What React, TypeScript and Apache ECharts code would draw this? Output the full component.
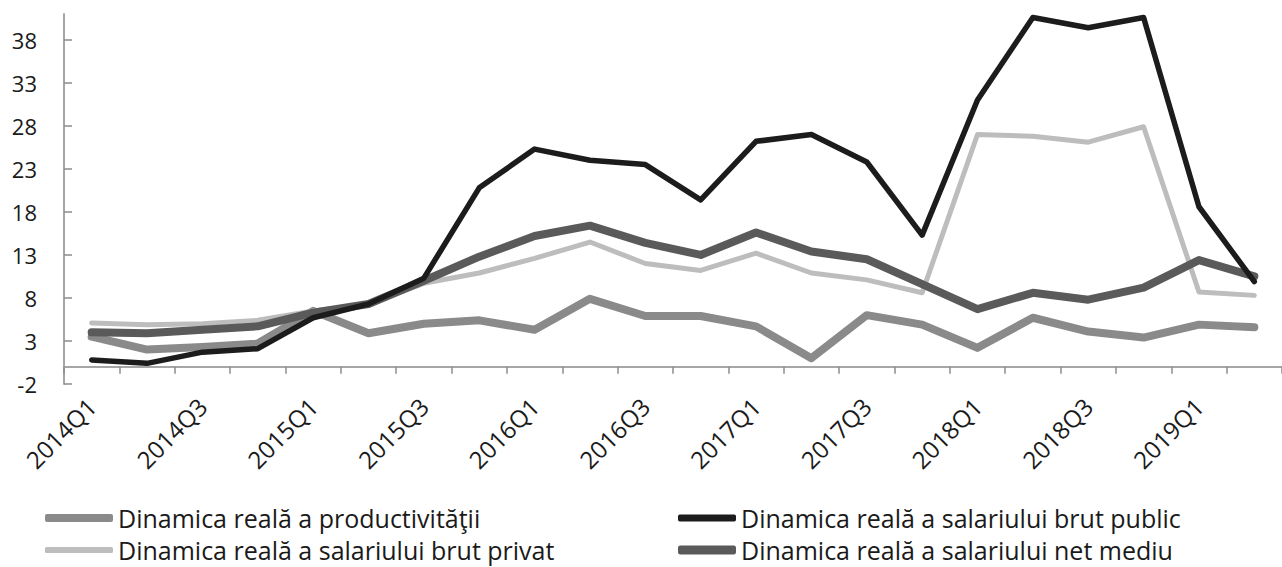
import React, { useEffect, useRef } from "react";
import * as echarts from "echarts";

const categories = [
  "2014Q1", "2014Q2", "2014Q3", "2014Q4",
  "2015Q1", "2015Q2", "2015Q3", "2015Q4",
  "2016Q1", "2016Q2", "2016Q3", "2016Q4",
  "2017Q1", "2017Q2", "2017Q3", "2017Q4",
  "2018Q1", "2018Q2", "2018Q3", "2018Q4",
  "2019Q1", "2019Q2",
];

const productivitate = [3.5, 2.0, 2.3, 2.7, 6.5, 3.9, 5.0, 5.4, 4.3, 7.9, 5.9, 5.9, 4.7, 1.0, 6.0, 4.9, 2.2, 5.7, 4.1, 3.4, 4.9, 4.6];
const brutPublic = [0.8, 0.4, 1.7, 2.1, 5.7, 7.3, 10.3, 20.8, 25.3, 24.0, 23.5, 19.4, 26.2, 27.0, 23.8, 15.3, 31.0, 40.6, 39.4, 40.6, 18.6, 9.9];
const brutPrivat = [5.1, 4.9, 5.0, 5.4, 6.5, 7.3, 9.7, 10.9, 12.6, 14.5, 12.0, 11.2, 13.2, 10.9, 10.1, 8.6, 27.0, 26.8, 26.1, 27.9, 8.7, 8.3];
const netMediu = [4.0, 3.9, 4.3, 4.7, 6.3, 7.3, 10.0, 12.8, 15.2, 16.4, 14.4, 13.0, 15.6, 13.4, 12.5, 9.6, 6.7, 8.6, 7.8, 9.2, 12.4, 10.5];

const yTicks = [-2, 3, 8, 13, 18, 23, 28, 33, 38];

const names = {
  prod: "Dinamica reală a productivităţii",
  pub: "Dinamica reală a salariului brut public",
  priv: "Dinamica reală a salariului brut privat",
  net: "Dinamica reală a salariului net mediu",
};

const FONT = "'Open Sans'";

export default function App() {
  const ref = useRef<HTMLDivElement>(null);
  useEffect(() => {
    if (!ref.current) return;
    const chart = echarts.init(ref.current, null, { renderer: "svg" });
    const mk = (name: string, data: number[], color: string, width: number, z: number) => ({
      name,
      type: "line",
      data,
      symbol: "none",
      z,
      itemStyle: { color },
      lineStyle: { color, width, join: "round", cap: "round" },
    });
    const legendText = { fontFamily: FONT, fontSize: 25, color: "#1a1a1a", lineHeight: 28 };
    const leg = (name: string, left: number, top: number, w: number, h: number) => ({
      orient: "horizontal",
      left,
      top,
      padding: 0,
      itemWidth: w,
      itemHeight: h,
      icon: "roundRect",
      textStyle: legendText,
      data: [name],
    });
    chart.setOption({
      animation: false,
      backgroundColor: "#ffffff",
      grid: { left: 64, right: -7, top: 14, bottom: 183, containLabel: false },
      legend: [
        leg(names.prod, 45, 504, 68, 8),
        leg(names.priv, 45, 536, 68, 6),
        leg(names.pub, 678, 504, 58, 7),
        leg(names.net, 678, 536, 58, 9),
      ],
      xAxis: {
        type: "category",
        data: categories,
        boundaryGap: true,
        axisLine: { onZero: true, lineStyle: { color: "#a6a6a6", width: 2 } },
        axisTick: { show: true, interval: 0, length: 7, lineStyle: { color: "#8c8c8c", width: 1.5 } },
        axisLabel: {
          interval: 1,
          rotate: 45,
          margin: 18,
          fontFamily: FONT,
          fontSize: 24,
          color: "#1a1a1a",
        },
        splitLine: { show: false },
      },
      yAxis: {
        type: "value",
        min: -2,
        max: 41,
        interval: 5,
        axisLine: { show: true, lineStyle: { color: "#a6a6a6", width: 2 } },
        axisTick: { show: true, inside: true, length: 8, customValues: yTicks, lineStyle: { color: "#8c8c8c", width: 1.5 } },
        axisLabel: {
          customValues: yTicks,
          margin: 27,
          fontFamily: FONT,
          fontSize: 22,
          color: "#1a1a1a",
        },
        splitLine: { show: false },
      },
      series: [
        mk(names.prod, productivitate, "#8a8a8a", 8, 1),
        mk(names.priv, brutPrivat, "#bdbdbd", 5, 2),
        mk(names.net, netMediu, "#5a5a5a", 8, 3),
        mk(names.pub, brutPublic, "#1c1c1c", 5.5, 4),
      ],
    });
    return () => chart.dispose();
  }, []);
  return (
    <div
      ref={ref}
      style={{ position: "fixed", left: 0, top: 0, width: 1282, height: 567, background: "#fff" }}
    />
  );
}
